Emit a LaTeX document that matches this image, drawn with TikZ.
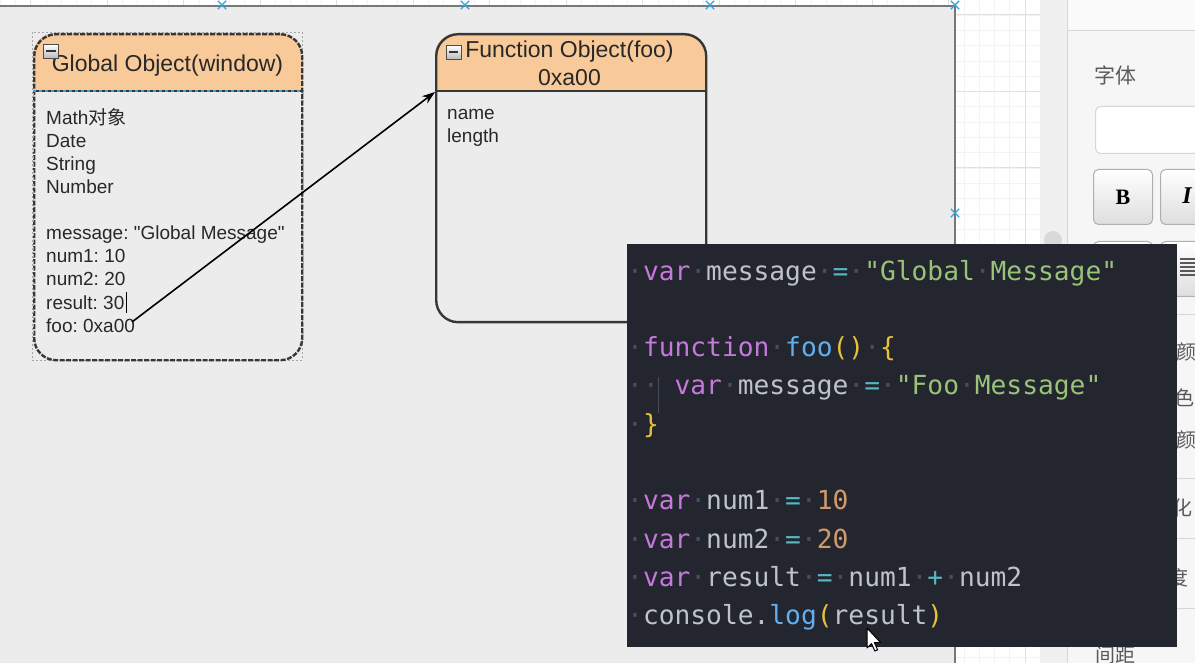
\documentclass[tikz,border=0pt]{standalone}
\usepackage{fontspec}
\setmainfont{Liberation Sans}[Ligatures=TeXOff]
\newfontfamily\codefont{DejaVu Sans Mono}[Ligatures=TeXOff]
\newfontfamily\cjkfont{Noto Sans CJK SC}
\newfontfamily\uiserif{Liberation Serif}[Ligatures=TeXOff]
\usetikzlibrary{arrows.meta,shapes.misc}
\frenchspacing
\definecolor{canvasbg}{RGB}{236,236,236}
\definecolor{canvasline}{RGB}{120,120,120}
\definecolor{gridminor}{RGB}{243,243,243}
\definecolor{gridmajor}{RGB}{224,224,224}
\definecolor{hdr}{RGB}{248,201,153}
\definecolor{boxline}{RGB}{55,55,55}
\definecolor{txt}{RGB}{40,40,40}
\definecolor{xblue}{RGB}{52,160,220}
\definecolor{sidebg}{RGB}{246,246,246}
\definecolor{sidetop}{RGB}{250,250,250}
\definecolor{scrollbg}{RGB}{240,240,240}
\definecolor{sideline}{RGB}{214,214,214}
\definecolor{sidetxt}{RGB}{90,90,90}
\definecolor{btnline}{RGB}{175,175,175}
\definecolor{btnbot}{RGB}{222,222,222}
\definecolor{codebg}{RGB}{35,38,46}
\definecolor{wsdot}{RGB}{72,78,90}
\definecolor{guide}{RGB}{70,76,88}
\definecolor{ckw}{RGB}{198,120,221}
\definecolor{cid}{RGB}{190,194,202}
\definecolor{cop}{RGB}{86,182,194}
\definecolor{cstr}{RGB}{152,195,121}
\definecolor{cfn}{RGB}{97,175,239}
\definecolor{cpn}{RGB}{232,192,60}
\definecolor{cnum}{RGB}{209,154,102}
\newcommand\wsd{{\color{wsdot}·}}
\newcommand\cKw[1]{\textcolor{ckw}{#1}}
\newcommand\cId[1]{\textcolor{cid}{#1}}
\newcommand\cOp[1]{\textcolor{cop}{#1}}
\newcommand\cStr[1]{\textcolor{cstr}{#1}}
\newcommand\cFn[1]{\textcolor{cfn}{#1}}
\newcommand\cPn[1]{\textcolor{cpn}{#1}}
\newcommand\cNum[1]{\textcolor{cnum}{#1}}
\begin{document}
\begin{tikzpicture}[x=1pt,y=-1pt,
  objbox/.style={draw=boxline, line width=2.4pt, rounded corners=22pt, inner sep=0pt, anchor=north west},
  bodytext/.style={anchor=base west, inner sep=0pt, font=\fontsize{19}{23}\selectfont, text=txt},
  titletext/.style={anchor=base, inner sep=0pt, font=\fontsize{23}{28}\selectfont, text=txt},
  codeline/.style={anchor=base west, inner sep=0pt, font=\codefont\fontsize{26.25}{38}\selectfont},
  xmark/.style={cross out, draw=xblue, line width=1.3pt, inner sep=0pt, minimum size=7pt},
  minusbox/.style={draw=gray!60!black, line width=.8pt, top color=white, bottom color=gray!55, inner sep=0pt, minimum width=15pt, minimum height=14pt},
  uibtn/.style={draw=btnline, line width=1pt, rounded corners=5pt, top color=white, bottom color=btnbot, inner sep=0pt, anchor=north west},
  sidech/.style={anchor=west, inner sep=0pt, font=\cjkfont\fontsize{20}{24}\selectfont, text=sidetxt}]
\useasboundingbox (0,0) rectangle (1195,663);
% backgrounds
\fill[white] (0,0) rectangle (1195,663);
\begin{scope}
  \clip (955,0) rectangle (1040,663) (0,0) rectangle (955,6);
  \foreach \k in {0,...,70} {\draw[gridminor, line width=.7pt] (\k*15.3,0) -- (\k*15.3,663);}
  \foreach \k in {0,...,44} {\draw[gridminor, line width=.7pt] (0,\k*15.3-0.3) -- (1040,\k*15.3-0.3);}
  \foreach \k in {0,...,13} {\draw[gridmajor, line width=1pt] (30.6+\k*76.5,0) -- (30.6+\k*76.5,663);}
  \foreach \k in {0,...,8} {\draw[gridmajor, line width=1pt] (0,15+\k*76.5) -- (1040,15+\k*76.5);}
\end{scope}
\fill[canvasbg] (0,6) rectangle (955,663);
\draw[canvasline, line width=1.8pt] (0,6) -- (955,6) -- (955,663);
% sidebar
\fill[scrollbg] (1040,0) rectangle (1067,663);
\fill[sidebg] (1067,0) rectangle (1195,663);
\fill[sidetop] (1067,0) rectangle (1195,31);
\draw[sideline, line width=1pt] (1067,0) -- (1067,663);
\draw[sideline, line width=1pt] (1067,31) -- (1195,31);
\fill[gray!30] (1053,240) circle (9pt);
\node[anchor=west, inner sep=0pt, font=\cjkfont\fontsize{21}{24}\selectfont, text=sidetxt] (lblfont) at (1094,75) {字体};
\node[draw=sideline, line width=1pt, fill=white, rounded corners=5pt, minimum width=115pt, minimum height=47pt, anchor=north west, inner sep=0pt] (fontin) at (1095,106) {};
\node[uibtn, minimum width=59pt, minimum height=55pt] (btnb) at (1093,169) {};
\node[font=\uiserif\bfseries\fontsize{22}{24}\selectfont, inner sep=0pt] (btnbl) at (btnb.center) {B};
\node[uibtn, minimum width=59pt, minimum height=55pt] (btni) at (1160,169) {};
\node[font=\uiserif\bfseries\itshape\fontsize{24}{24}\selectfont, inner sep=0pt] (btnil) at (1187,196) {I};
\node[uibtn, minimum width=59pt, minimum height=55pt] (btnc) at (1093,241) {};
\node[uibtn, minimum width=59pt, minimum height=55pt] (btnd) at (1160,241) {};
\foreach \yy in {259,263,267,271,275} {\draw[gray!70!black, line width=1.2pt] (1180,\yy) -- (1195,\yy);}
\foreach \yy in {315,478,538,608} {\draw[sideline, line width=1pt] (1067,\yy) -- (1195,\yy);}
\node[sidech] (s1) at (1176,352) {颜};
\node[sidech] (s2) at (1174,398) {色};
\node[sidech] (s3) at (1176,440) {颜};
\node[sidech] (s4) at (1172,508) {化};
\node[sidech] (s5) at (1168,578) {度};
\node[sidech] (s6) at (1095,655) {间距};
% markers
\node[xmark] (m1) at (222,5) {};
\node[xmark] (m2) at (465,5) {};
\node[xmark] (m3) at (710,5) {};
\node[xmark] (m4) at (955,5) {};
\node[xmark] (m5) at (955,213) {};
% headers
\begin{scope}
  \clip[rounded corners=22pt] (33,33) rectangle (301,359);
  \fill[hdr] (33,33) rectangle (301,91);
\end{scope}
\begin{scope}
  \clip[rounded corners=22pt] (435,33) rectangle (705,321);
  \fill[hdr] (435,33) rectangle (705,91);
\end{scope}
% global object box
\draw[gray!70, line width=.6pt, dash pattern=on 2pt off 2pt] (32,32) rectangle (302,360);
\node[objbox, minimum width=268pt, minimum height=326pt, dash pattern=on 5pt off 1.5pt] (glob) at (33,33) {};
\draw[boxline, line width=2.4pt] ([yshift=-58pt]glob.north west) -- ([yshift=-58pt]glob.north east);
\draw[xblue, line width=1.2pt, dash pattern=on 3pt off 3pt] ([yshift=-58pt]glob.north west) -- ([yshift=-58pt]glob.north east);
\draw[xblue!70, line width=.8pt, dash pattern=on 3pt off 4pt] ([yshift=-60pt]glob.north west) -- ([yshift=24pt]glob.south west);
\draw[xblue!70, line width=.8pt, dash pattern=on 3pt off 4pt] ([yshift=-60pt]glob.north east) -- ([yshift=24pt]glob.south east);
\node[titletext] (globt) at (167.5,72) {Global Object(window)};
\node[minusbox] (gicon) at (51,51.5) {};
\draw[black!80, line width=2pt] ([xshift=3pt]gicon.west) -- ([xshift=-3pt]gicon.east);
\foreach \n/\yy/\t in {1/125/{Math{\cjkfont 对象}},2/148/Date,3/171/String,4/194/Number,5/240/{message: "Global Message"},6/263/{num1: 10},7/286/{num2: 20},8/309/{result: 30},9/332/{foo: 0xa00}}
  {\node[bodytext] (g\n) at (46,\yy) {\t};}
\draw[black, line width=1pt] ([xshift=1.5pt,yshift=17pt]g8.base east) -- ([xshift=1.5pt,yshift=-4pt]g8.base east);
% function object box
\node[objbox, minimum width=270pt, minimum height=288pt] (fn) at (435,33) {};
\draw[boxline, line width=2.4pt] ([yshift=-58pt]fn.north west) -- ([yshift=-58pt]fn.north east);
\node[titletext] (fnt1) at (569.5,58) {Function Object(foo)};
\node[titletext] (fnt2) at (569.5,86) {0xa00};
\node[minusbox] (ficon) at (453.5,52.5) {};
\draw[black!80, line width=2pt] ([xshift=3pt]ficon.west) -- ([xshift=-3pt]ficon.east);
\node[bodytext] (f1) at (447,120) {name};
\node[bodytext] (f2) at (447,143) {length};
% arrow
\coordinate (fooend) at (132,322);
\coordinate (fnhdr) at (435,92);
\draw[black, line width=1.6pt, -{Stealth[length=13pt,width=9pt]}] (fooend) -- (fnhdr);
% code panel
\node[fill=codebg, minimum width=550pt, minimum height=403pt, anchor=north west, inner sep=0pt] (code) at (627,244) {};
\node[codeline] (c1) at (627,280) {\wsd\cKw{var}\wsd\cId{message}\wsd\cOp{=}\wsd\cStr{"Global}\wsd\cStr{Message"}};
\node[codeline] (c3) at (627,356.6) {\wsd\cKw{function}\wsd\cFn{foo}\cPn{()}\wsd\cPn{\{}};
\node[codeline] (c4) at (627,394.9) {\wsd\wsd\phantom{·}\cKw{var}\wsd\cId{message}\wsd\cOp{=}\wsd\cStr{"Foo}\wsd\cStr{Message"}};
\draw[guide, line width=1pt] (658,377) -- (658,413);
\node[codeline] (c5) at (627,433.2) {\wsd\cPn{\}}};
\node[codeline] (c7) at (627,509.8) {\wsd\cKw{var}\wsd\cId{num1}\wsd\cOp{=}\wsd\cNum{10}};
\node[codeline] (c8) at (627,548.1) {\wsd\cKw{var}\wsd\cId{num2}\wsd\cOp{=}\wsd\cNum{20}};
\node[codeline] (c9) at (627,586.4) {\wsd\cKw{var}\wsd\cId{result}\wsd\cOp{=}\wsd\cId{num1}\wsd\cOp{+}\wsd\cId{num2}};
\node[codeline] (c10) at (627,624.7) {\wsd\cId{console.}\cFn{log}\cPn{(}\cId{result}\cPn{)}};
% mouse pointer
\draw[black, fill=white, line width=1pt, line join=round, shift={(867,628)}]
  (0,0) -- (0,20) -- (4.6,15.6) -- (7.8,23) -- (10.6,21.8) -- (7.4,14.6) -- (13.6,14.6) -- cycle;
\end{tikzpicture}
\end{document}
